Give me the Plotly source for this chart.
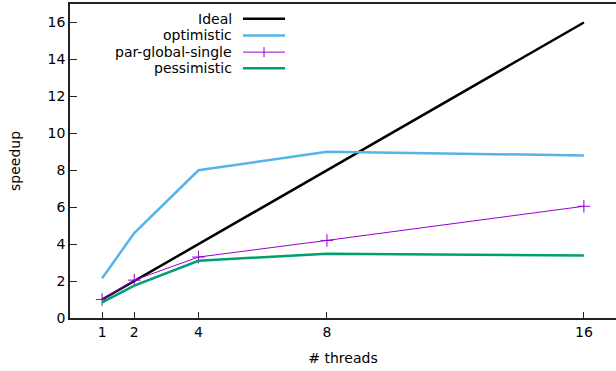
import plotly.graph_objects as go

threads = [1, 2, 4, 8, 16]
ideal = [1, 2, 4, 8, 16]
optimistic = [2.15, 4.6, 8.0, 9.0, 8.8]
par_global_single = [1.0, 2.05, 3.3, 4.2, 6.05]
pessimistic = [0.85, 1.75, 3.1, 3.48, 3.38]

x_ticks = [1, 2, 4, 8, 16]
y_ticks = [0, 2, 4, 6, 8, 10, 12, 14, 16]

names = ["Ideal", "optimistic", "par-global-single", "pessimistic"]
colors = ["#000000", "#56b4e9", "#9400d3", "#009e73"]
widths = [2.5, 2.5, 1, 2.5]
series = [ideal, optimistic, par_global_single, pessimistic]

FONT = "DejaVu Sans"
fig = go.Figure()
for name, ys, c, w in zip(names, series, colors, widths):
    if name == "par-global-single":
        fig.add_trace(go.Scatter(x=threads, y=ys, mode="lines+markers", name=name,
                                 line=dict(color=c, width=w),
                                 marker=dict(symbol="cross-thin", size=9,
                                             line=dict(color=c, width=1))))
    else:
        fig.add_trace(go.Scatter(x=threads, y=ys, mode="lines", name=name,
                                 line=dict(color=c, width=w)))

# manual legend (text left of sample, gnuplot style)
W, H = 546.0, 314.5
def px(x):
    return (x - 70) / W
def py(y):
    return (318 - y) / H

rows = [18.3, 35.0, 51.7, 67.8]
annotations = []
shapes = []
for name, c, w, ry in zip(names, colors, widths, rows):
    annotations.append(dict(text=name, x=px(234), y=py(ry), xref="paper", yref="paper",
                            xanchor="right", yanchor="middle", showarrow=False,
                            font=dict(family=FONT, size=14, color="#000")))
    shapes.append(dict(type="line", xref="paper", yref="paper",
                       x0=px(243), x1=px(285), y0=py(ry), y1=py(ry),
                       line=dict(color=c, width=w)))
    if name == "par-global-single":
        shapes.append(dict(type="line", xref="paper", yref="paper",
                           x0=px(264), x1=px(264), y0=py(ry - 5), y1=py(ry + 5),
                           line=dict(color=c, width=1)))

fig.update_layout(
    width=616, height=371,
    margin=dict(l=70, r=0, t=3.5, b=53),
    plot_bgcolor="white", paper_bgcolor="white",
    showlegend=False,
    font=dict(family=FONT, size=14, color="#000"),
    annotations=annotations, shapes=shapes,
    xaxis=dict(range=[0, 17], tickvals=x_ticks, ticktext=[str(v) for v in x_ticks],
               showgrid=False, zeroline=False, showline=True, linecolor="#222",
               linewidth=1.5, mirror=True, ticks="inside", ticklen=6, tickcolor="#222",
               title=dict(text="# threads", font=dict(size=14), standoff=15)),
    yaxis=dict(range=[0, 17], tickvals=y_ticks, showgrid=False, zeroline=False,
               showline=True, linecolor="#222", linewidth=1.5, ticks="inside",
               ticklen=7, tickcolor="#222",
               title=dict(text="speedup", font=dict(size=14), standoff=24)),
)
fig.write_html("out.html")
